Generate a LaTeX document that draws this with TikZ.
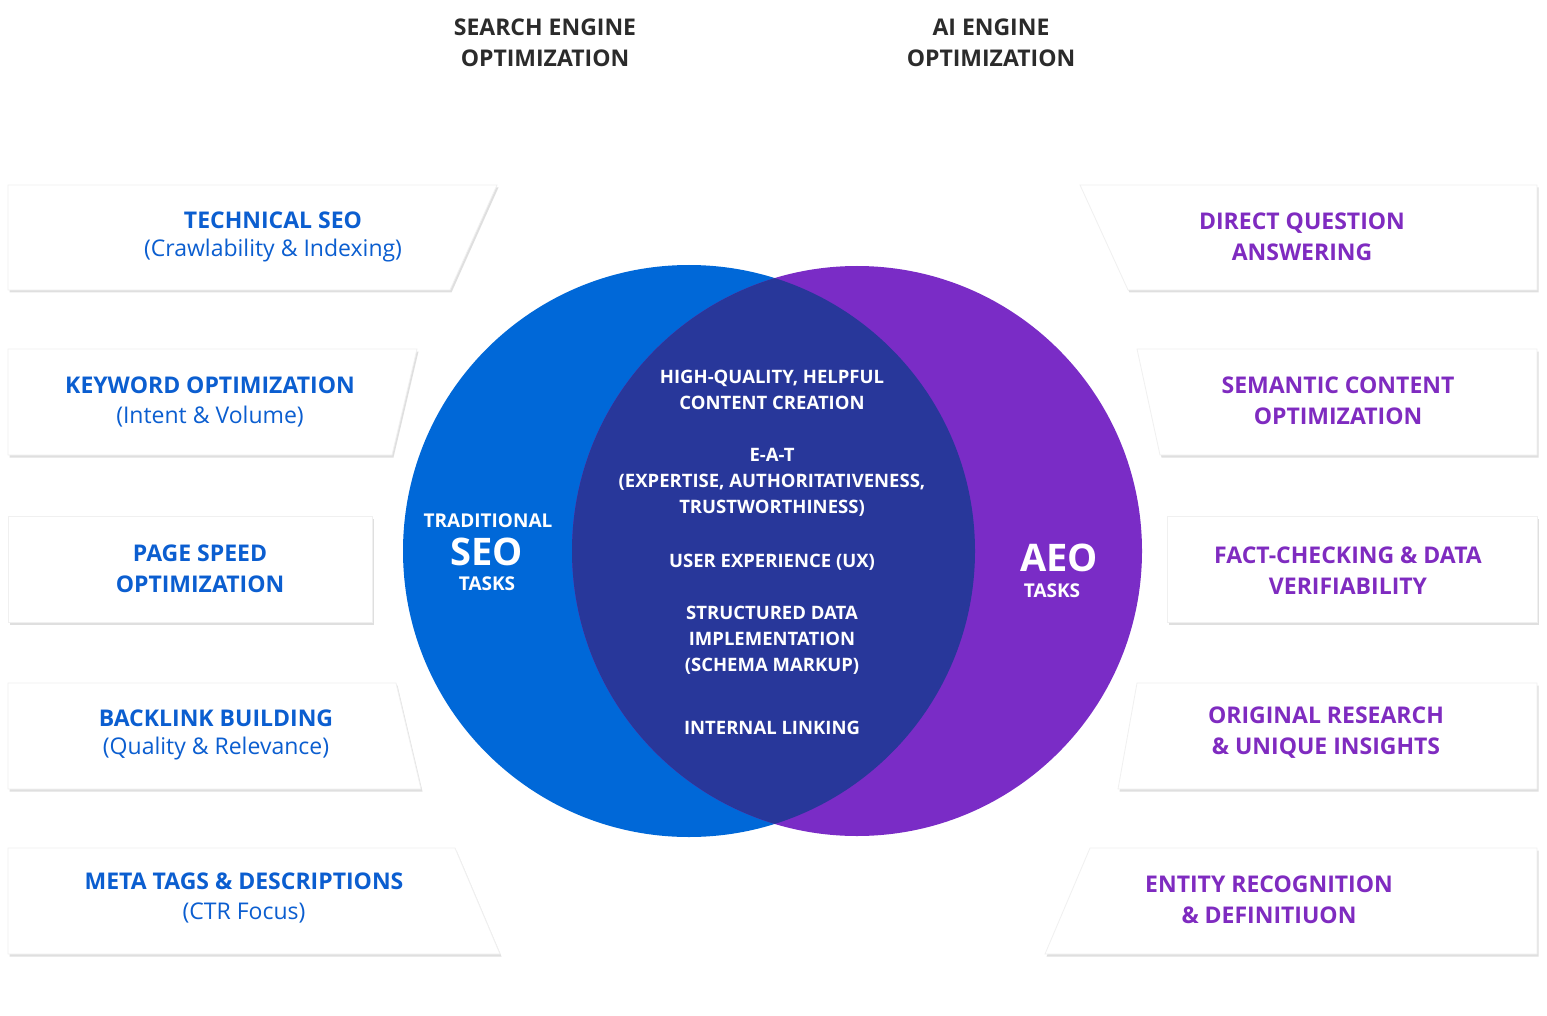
\documentclass[tikz,border=0pt]{standalone}
\usepackage{fontspec}
\setmainfont{Open Sans}
\usetikzlibrary{shadows}
\definecolor{seoblue}{HTML}{0068D8}
\definecolor{aeopurple}{HTML}{7A2CC6}
\definecolor{lens}{HTML}{28379A}
\definecolor{tblue}{HTML}{0B5ED0}
\definecolor{tpurple}{HTML}{7F2BC0}
\definecolor{hdr}{HTML}{2B2B2B}
\begin{document}
\begin{tikzpicture}[x=1pt,y=-1pt,
 box/.style={fill=white,draw=black!6,line width=0.8pt,drop shadow={shadow xshift=1.5pt,shadow yshift=-2.5pt,fill=black!35,opacity=0.35}},
 ttl/.style={font=\fontsize{23}{31}\selectfont\bfseries,align=center},
 sub/.style={font=\fontsize{23}{31}\selectfont},
 ctr/.style={text=white,font=\fontsize{18.5}{26}\selectfont\bfseries,align=center}]
\useasboundingbox (0,0) rectangle (1547,1016);
\fill[white] (0,0) rectangle (1547,1016);
% headers
\node[ttl,text=hdr] (h1) at (545,43) {SEARCH ENGINE\\OPTIMIZATION};
\node[ttl,text=hdr] (h2) at (991,43) {AI ENGINE\\OPTIMIZATION};
% circles
\fill[seoblue] (689,551) circle (286);
\fill[aeopurple] (857,551) circle (285);
\begin{scope}
\clip (689,551) circle (286);
\fill[lens] (857,551) circle (285);
\end{scope}
% left boxes
\path[box] (8,185) -- (497,185) -- (450,290) -- (8,290) -- cycle;
\path[box] (8,349) -- (417,349) -- (392,455) -- (8,455) -- cycle;
\path[box] (8,516) -- (372,516) -- (372,622) -- (8,622) -- cycle;
\path[box] (8,683) -- (396,683) -- (421,789) -- (8,789) -- cycle;
\path[box] (8,848) -- (455,848) -- (500,954) -- (8,954) -- cycle;
% right boxes
\path[box] (1080,185) -- (1537,185) -- (1537,290) -- (1128,290) -- cycle;
\path[box] (1137,349) -- (1537,349) -- (1537,455) -- (1160,455) -- cycle;
\path[box] (1167,516) -- (1537,516) -- (1537,622) -- (1167,622) -- cycle;
\path[box] (1137,683) -- (1537,683) -- (1537,789) -- (1118,789) -- cycle;
\path[box] (1090,848) -- (1537,848) -- (1537,954) -- (1045,954) -- cycle;
% left texts
\node[ttl,text=tblue] (l1) at (273,220) {TECHNICAL SEO};
\node[sub,text=tblue] (l1s) at (273,251) {(Crawlability \& Indexing)};
\node[ttl,text=tblue] (l2) at (210,385) {KEYWORD OPTIMIZATION};
\node[sub,text=tblue] (l2s) at (210,417) {(Intent \& Volume)};
\node[ttl,text=tblue] (l3) at (200,569) {PAGE SPEED\\OPTIMIZATION};
\node[ttl,text=tblue] (l4) at (216,718) {BACKLINK BUILDING};
\node[sub,text=tblue] (l4s) at (216,749) {(Quality \& Relevance)};
\node[ttl,text=tblue] (l5) at (244,881) {META TAGS \& DESCRIPTIONS};
\node[sub,text=tblue] (l5s) at (244,913) {(CTR Focus)};
% right texts
\node[ttl,text=tpurple] (r1) at (1302,237) {DIRECT QUESTION\\ANSWERING};
\node[ttl,text=tpurple] (r2) at (1338,401) {SEMANTIC CONTENT\\OPTIMIZATION};
\node[ttl,text=tpurple] (r3) at (1348,571) {FACT-CHECKING \& DATA\\VERIFIABILITY};
\node[ttl,text=tpurple] (r4) at (1326,733) {ORIGINAL RESEARCH\\\& UNIQUE INSIGHTS};
\node[ttl,text=tpurple] (r5) at (1269,900) {ENTITY RECOGNITION\\\& DEFINITIUON};
% circle labels
\node[text=white,font=\fontsize{19}{22}\selectfont\bfseries] (t1) at (488,521) {TRADITIONAL};
\node[text=white,font=\fontsize{38}{40}\selectfont\bfseries] (t2) at (487,552) {SEO};
\node[text=white,font=\fontsize{19}{22}\selectfont\bfseries] (t3) at (487,584) {TASKS};
\node[text=white,font=\fontsize{38}{40}\selectfont\bfseries] (a1) at (1059,558) {AEO};
\node[text=white,font=\fontsize{19}{22}\selectfont\bfseries] (a2) at (1052,591) {TASKS};
% center
\node[ctr] (c1) at (772,390) {HIGH-QUALITY, HELPFUL\\CONTENT CREATION};
\node[ctr] (c2) at (772,482) {E-A-T\\(EXPERTISE, AUTHORITATIVENESS,\\TRUSTWORTHINESS)};
\node[ctr] (c3) at (772,562) {USER EXPERIENCE (UX)};
\node[ctr] (c4) at (772,640) {STRUCTURED DATA\\IMPLEMENTATION\\(SCHEMA MARKUP)};
\node[ctr] (c5) at (772,728) {INTERNAL LINKING};
\end{tikzpicture}
\end{document}
